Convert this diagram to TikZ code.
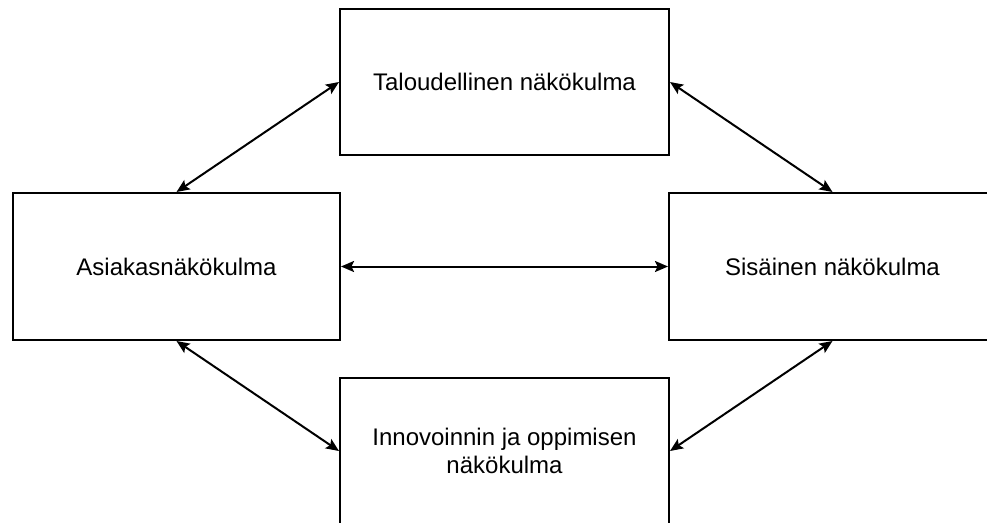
\documentclass[tikz,border=0pt]{standalone}
\usepackage{fontspec}
\setmainfont{Liberation Sans}
\usetikzlibrary{arrows.meta}
\begin{document}
\begin{tikzpicture}[x=1pt,y=-1pt,
  view/.style={draw, line width=2pt, rectangle, align=center,
    font=\fontsize{24}{28}\selectfont, inner sep=0pt},
  link/.style={line width=2pt,
    {Stealth[length=13pt,width=11pt,inset=2.5pt]}-{Stealth[length=13pt,width=11pt,inset=2.5pt]}}]
  \useasboundingbox (0,0) rectangle (987,522);
  \clip (0,0) rectangle (987,522);
  % the four perspectives
  \node[view, minimum width=329pt, minimum height=146pt] (fin) at (504.5,82) {Taloudellinen näkökulma};
  \node[view, minimum width=327pt, minimum height=147pt] (cust) at (176.5,266.5) {Asiakasnäkökulma};
  \node[view, minimum width=327pt, minimum height=147pt] (int) at (832.5,266.5) {Sisäinen näkökulma};
  \node[view, minimum width=329pt, minimum height=146pt] (learn) at (504.5,451) {Innovoinnin ja oppimisen\\näkökulma};
  % two-way links between them
  \draw[link] (fin.west) -- (cust.north);
  \draw[link] (fin.east) -- (int.north);
  \draw[link] (cust.east) -- (int.west);
  \draw[link] (cust.south) -- (learn.west);
  \draw[link] (int.south) -- (learn.east);
\end{tikzpicture}
\end{document}
